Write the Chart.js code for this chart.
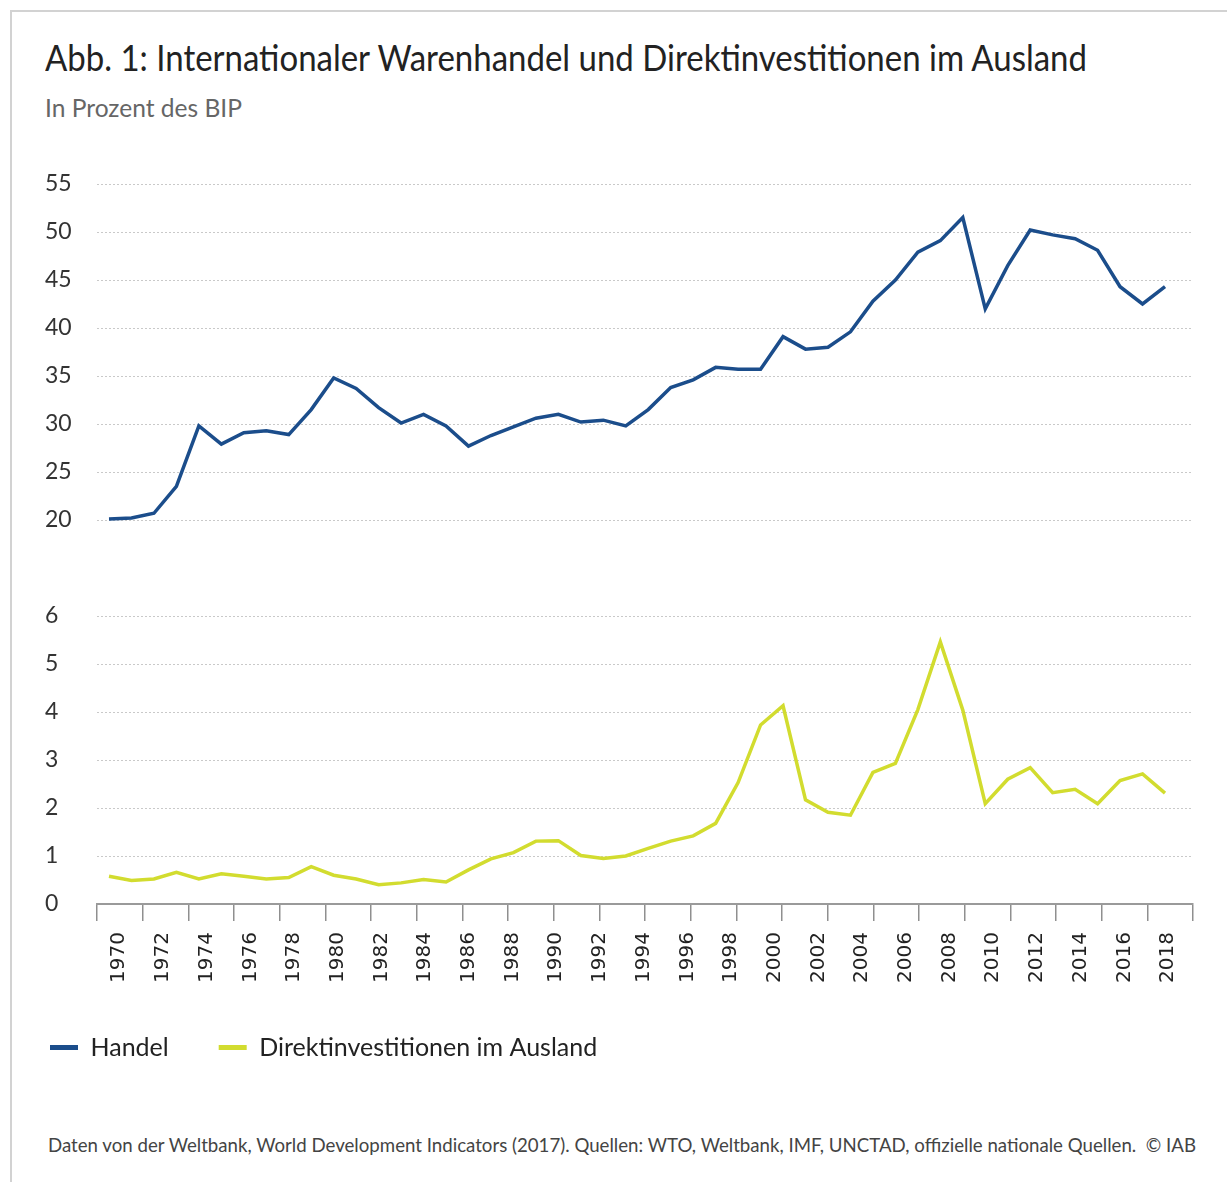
<!DOCTYPE html>
<html lang="de">
<head>
<meta charset="utf-8">
<title>Abb. 1: Internationaler Warenhandel und Direktinvestitionen im Ausland</title>
<script src="https://cdn.jsdelivr.net/npm/chart.js@4.4.1/dist/chart.umd.min.js"></script>
<style>
  html, body { margin: 0; padding: 0; background: #fff; }
  body { width: 1227px; height: 1182px; position: relative; overflow: hidden; font-family: Lato, 'Noto Sans', sans-serif; }
  #frame { position: absolute; left: 10px; top: 10px; right: -4px; bottom: -4px; border-top: 2px solid #d2d2d2; border-left: 2px solid #d2d2d2; }
  .txt { position: absolute; white-space: nowrap; transform-origin: 0 0; line-height: 1; }
  #title { left: 45px; top: 38px; font-size: 37px; color: #222; }
  #sub { left: 45px; top: 95px; font-size: 25px; color: #666; }
  #source { left: 48px; top: 1134px; font-size: 20px; color: #444; }
  #chart { position: absolute; left: 0; top: 150px; }
</style>
</head>
<body>
<div id="frame"></div>
<div id="title" class="txt">Abb. 1: Internationaler Warenhandel und Direktinvestitionen im Ausland</div>
<div id="sub" class="txt">In Prozent des BIP</div>
<canvas id="chart" width="1227" height="940"></canvas>
<div id="source" class="txt">Daten von der Weltbank, World Development Indicators (2017). Quellen: WTO, Weltbank, IMF, UNCTAD, offizielle nationale Quellen.&nbsp; © IAB</div>
<script>
// Werte in Prozent des BIP
const jahre = [1970, 1971, 1972, 1973, 1974, 1975, 1976, 1977, 1978, 1979,
  1980, 1981, 1982, 1983, 1984, 1985, 1986, 1987, 1988, 1989,
  1990, 1991, 1992, 1993, 1994, 1995, 1996, 1997, 1998, 1999,
  2000, 2001, 2002, 2003, 2004, 2005, 2006, 2007, 2008, 2009,
  2010, 2011, 2012, 2013, 2014, 2015, 2016, 2017];
const handel = [20.1, 20.2, 20.7, 23.5, 29.8, 27.9, 29.1, 29.3, 28.9, 31.5,
  34.8, 33.7, 31.7, 30.1, 31.0, 29.8, 27.7, 28.8, 29.7, 30.6,
  31.0, 30.2, 30.4, 29.8, 31.5, 33.8, 34.6, 35.9, 35.7, 35.7,
  39.1, 37.8, 38.0, 39.6, 42.8, 45.0, 47.9, 49.1, 51.5, 42.0,
  46.5, 50.2, 49.7, 49.3, 48.1, 44.3, 42.5, 44.3];
const fdi = [0.58, 0.49, 0.52, 0.66, 0.52, 0.63, 0.58, 0.52, 0.55, 0.78,
  0.60, 0.52, 0.40, 0.44, 0.51, 0.46, 0.71, 0.94, 1.07, 1.31,
  1.32, 1.01, 0.95, 1.00, 1.16, 1.31, 1.42, 1.68, 2.53, 3.73,
  4.13, 2.17, 1.91, 1.85, 2.74, 2.93, 4.05, 5.46, 4.04, 2.09,
  2.60, 2.84, 2.32, 2.39, 2.09, 2.57, 2.71, 2.31];
const achsenJahre = [1970, 1972, 1974, 1976, 1978, 1980, 1982, 1984, 1986, 1988,
  1990, 1992, 1994, 1996, 1998, 2000, 2002, 2004, 2006, 2008,
  2010, 2012, 2014, 2016, 2018];
const ticksOben = [20, 25, 30, 35, 40, 45, 50, 55];
const ticksUnten = [0, 1, 2, 3, 4, 5, 6];

const BLAU = '#1b4d8b';
const GELB = '#d2dc2f';
const RASTER = '#c9c9c9';

const setTicks = werte => axis => { axis.ticks = werte.map(v => ({ value: v })); };

// Legende etwas weiter nach links als die Achsenbeschriftung
const legendeLinks = {
  id: 'legendeLinks',
  afterLayout(chart) {
    chart.legend.left -= 45;
    chart.legend.right -= 45;
  }
};

new Chart(document.getElementById('chart'), {
  type: 'line',
  data: {
    datasets: [{
      label: 'Handel',
      data: jahre.map((j, i) => ({ x: j, y: handel[i] })),
      borderColor: BLAU,
      backgroundColor: BLAU,
      borderWidth: 3.5,
      pointRadius: 0,
      yAxisID: 'yOben'
    }, {
      label: 'Direktinvestitionen im Ausland',
      data: jahre.map((j, i) => ({ x: j, y: fdi[i] })),
      borderColor: GELB,
      backgroundColor: GELB,
      borderWidth: 3.5,
      pointRadius: 0,
      yAxisID: 'yUnten'
    }]
  },
  options: {
    responsive: false,
    animation: false,
    devicePixelRatio: 1,
    layout: { padding: { left: 45, right: 34, top: 34, bottom: 20 } },
    scales: {
      // Datenachse (unsichtbar)
      x: { type: 'linear', display: false, min: 1969.466, max: 2018.246 },
      // Strichmarken
      xStriche: {
        type: 'linear', position: 'bottom', min: 0, max: 24,
        afterBuildTicks: setTicks(achsenJahre.map((j, i) => i)),
        afterFit: s => { s.height = 17; },
        grid: { drawOnChartArea: false, tickLength: 17, color: '#8f8f8f', lineWidth: 1.5 },
        border: { display: true, color: '#9a9a9a', width: 2 },
        ticks: { display: false }
      },
      // Jahreszahlen
      xJahre: {
        type: 'linear', position: 'bottom', min: 1968.98, max: 2019.14,
        afterBuildTicks: setTicks(achsenJahre),
        afterFit: s => { s.height = 64; },
        grid: { display: false },
        border: { display: false },
        ticks: {
          autoSkip: false, minRotation: 90, maxRotation: 90, padding: 3,
          color: '#222', font: { family: 'DejaVu Sans', size: 20 },
          callback: v => String(v)
        }
      },
      yUnten: {
        type: 'linear', position: 'left', stack: 'panel', stackWeight: 2,
        min: 0, max: 6,
        afterBuildTicks: setTicks(ticksUnten),
        afterFit: s => { s.width = 52; },
        grid: { color: RASTER, drawTicks: false },
        border: { display: false, dash: [2, 2] },
        ticks: { autoSkip: false, crossAlign: 'far', color: '#333', font: { family: 'Lato', size: 23 }, callback: v => String(v) }
      },
      yOben: {
        type: 'linear', position: 'left', stack: 'panel', stackWeight: 3,
        min: 10, max: 55,
        afterBuildTicks: setTicks(ticksOben),
        afterFit: s => { s.width = 52; },
        grid: { color: RASTER, drawTicks: false },
        border: { display: false, dash: [2, 2] },
        ticks: { autoSkip: false, crossAlign: 'far', color: '#333', font: { family: 'Lato', size: 23 }, callback: v => String(v) }
      }
    },
    plugins: {
      tooltip: { enabled: false },
      legend: {
        position: 'bottom',
        align: 'start',
        labels: {
          boxWidth: 28,
          boxHeight: 5,
          padding: 50,
          color: '#222',
          font: { family: 'Lato', size: 25 },
          generateLabels: chart => Chart.defaults.plugins.legend.labels.generateLabels(chart)
            .map(l => ({ ...l, fillStyle: l.strokeStyle, lineWidth: 0 }))
        }
      }
    }
  },
  plugins: [legendeLinks]
});

// Texte auf die Breite im Original stauchen
function breite(id, w) {
  const el = document.getElementById(id);
  el.style.transform = 'none';
  el.style.transform = 'scaleX(' + (w / el.getBoundingClientRect().width) + ')';
}
function texte() {
  breite('title', 1042);
  breite('sub', 197);
  breite('source', 1148);
}
texte();
document.fonts.ready.then(texte);
</script>
</body>
</html>
